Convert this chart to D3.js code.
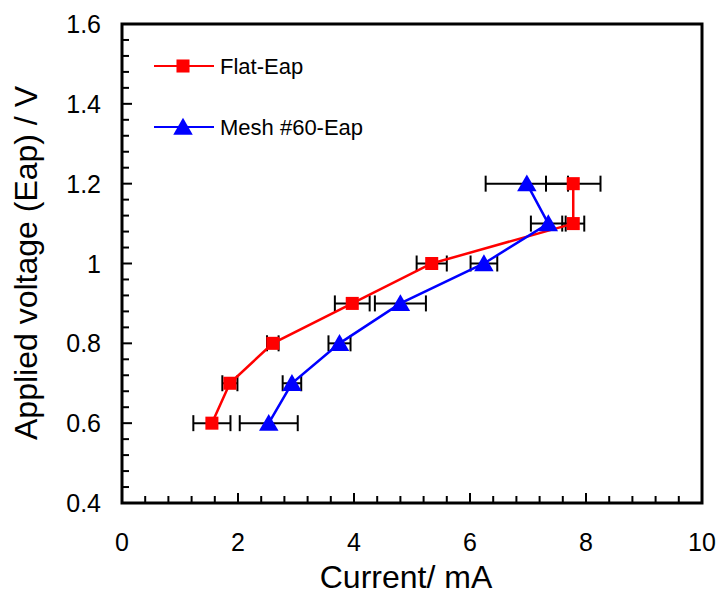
<!DOCTYPE html>
<html>
<head>
<meta charset="UTF-8">
<script src="https://d3js.org/d3.v7.min.js"></script>
<style>
  body { margin: 0; background: #fff; }
  text { font-family: "Liberation Sans", Arial, sans-serif; }
</style>
</head>
<body>
<svg width="717" height="594"></svg>
<script>
  // data
  var voltages = [0.6, 0.7, 0.8, 0.9, 1.0, 1.1, 1.2];
  var flatCurrent = [1.55, 1.86, 2.60, 3.97, 5.34, 7.78, 7.78];
  var flatErr = [0.32, 0.13, 0.10, 0.30, 0.26, 0.19, 0.47];
  var meshCurrent = [2.53, 2.93, 3.75, 4.80, 6.24, 7.35, 6.98];
  var meshErr = [0.50, 0.16, 0.19, 0.44, 0.23, 0.30, 0.71];
  var xTicks = [0, 2, 4, 6, 8, 10];
  var yTicks = [0.4, 0.6, 0.8, 1, 1.2, 1.4, 1.6];

  var svg = d3.select("svg");
  var m = { left: 122, right: 702, top: 24, bottom: 503 };

  var x = d3.scaleLinear().domain([0, 10]).range([m.left, m.right]);
  var y = d3.scaleLinear().domain([0.4, 1.6]).range([m.bottom, m.top]);

  // ticks pointing inward, minor every 0.4 / 0.04
  var g = svg.append("g").attr("stroke", "#000").attr("stroke-width", 2);
  d3.range(0, 10.001, 0.4).forEach(function(v) {
    var major = Math.abs(v / 2 - Math.round(v / 2)) < 1e-6;
    g.append("line").attr("x1", x(v)).attr("x2", x(v))
      .attr("y1", m.bottom).attr("y2", m.bottom - (major ? 10 : 7));
  });
  d3.range(0.4, 1.6001, 0.04).forEach(function(v) {
    var major = Math.abs(v / 0.2 - Math.round(v / 0.2)) < 1e-6;
    g.append("line").attr("x1", m.left).attr("x2", m.left + (major ? 10 : 7))
      .attr("y1", y(v)).attr("y2", y(v));
  });

  // frame
  svg.append("rect").attr("x", m.left).attr("y", m.top)
    .attr("width", m.right - m.left).attr("height", m.bottom - m.top)
    .attr("fill", "none").attr("stroke", "#000").attr("stroke-width", 3);

  // tick labels
  svg.selectAll(".xl").data(xTicks).enter().append("text")
    .attr("x", function(d) { return x(d); }).attr("y", 551)
    .attr("text-anchor", "middle").attr("font-size", 25)
    .text(function(d) { return d; });
  svg.selectAll(".yl").data(yTicks).enter().append("text")
    .attr("x", 101).attr("y", function(d) { return y(d) + 9; })
    .attr("text-anchor", "end").attr("font-size", 25)
    .text(function(d) { return d; });

  svg.append("text").attr("x", 406).attr("y", 588)
    .attr("text-anchor", "middle").attr("font-size", 32).text("Current/ mA");
  svg.append("text").attr("transform", "translate(37,263) rotate(-90)")
    .attr("text-anchor", "middle").attr("font-size", 32).text("Applied voltage (Eap) / V");

  var series = [
    { name: "Flat-Eap", color: "#ff0000", xs: flatCurrent, es: flatErr, shape: d3.symbolSquare, size: 170, ly: 66 },
    { name: "Mesh #60-Eap", color: "#0000ff", xs: meshCurrent, es: meshErr, shape: d3.symbolTriangle, size: 165, ly: 127 }
  ];

  // error bars under the lines
  series.forEach(function(s) {
    var eg = svg.append("g").attr("stroke", "#000").attr("stroke-width", 2);
    voltages.forEach(function(v, i) {
      var x0 = x(s.xs[i] - s.es[i]), x1 = x(s.xs[i] + s.es[i]), yy = y(v);
      eg.append("line").attr("x1", x0).attr("x2", x1).attr("y1", yy).attr("y2", yy);
      eg.append("line").attr("x1", x0).attr("x2", x0).attr("y1", yy - 8).attr("y2", yy + 8);
      eg.append("line").attr("x1", x1).attr("x2", x1).attr("y1", yy - 8).attr("y2", yy + 8);
    });
  });

  var line = d3.line().x(function(d) { return x(d[0]); }).y(function(d) { return y(d[1]); });
  var dy = function(s) { return s.shape === d3.symbolTriangle ? 2 : 0; };

  series.forEach(function(s) {
    var pts = voltages.map(function(v, i) { return [s.xs[i], v]; });
    svg.append("path").attr("d", line(pts)).attr("fill", "none")
      .attr("stroke", s.color).attr("stroke-width", 2.5);
    svg.selectAll(null).data(pts).enter().append("path")
      .attr("d", d3.symbol().type(s.shape).size(s.size))
      .attr("transform", function(d) { return "translate(" + x(d[0]) + "," + (y(d[1]) + dy(s)) + ")"; })
      .attr("fill", s.color);

    // legend
    svg.append("line").attr("x1", 154).attr("x2", 214).attr("y1", s.ly).attr("y2", s.ly)
      .attr("stroke", s.color).attr("stroke-width", 2);
    svg.append("path").attr("d", d3.symbol().type(s.shape).size(s.size))
      .attr("transform", "translate(183," + (s.ly + dy(s)) + ")")
      .attr("fill", s.color);
    svg.append("text").attr("x", 220).attr("y", s.ly + 8).attr("font-size", 22).text(s.name);
  });
</script>
</body>
</html>
